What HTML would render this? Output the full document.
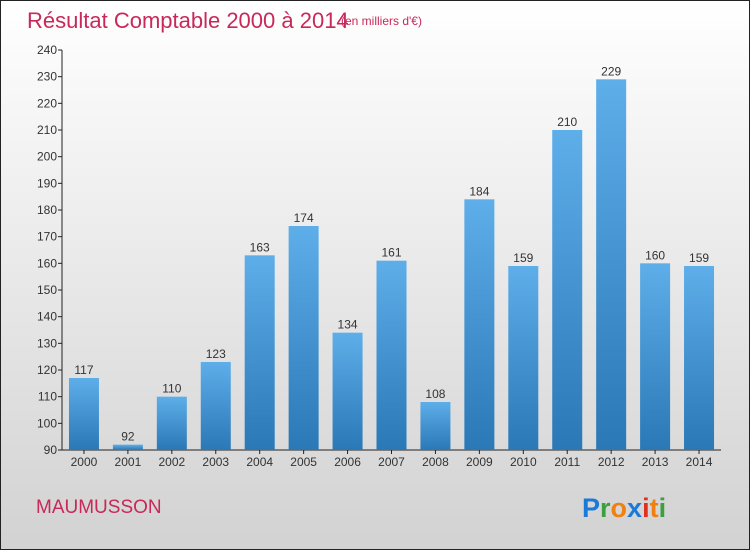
<!DOCTYPE html>
<html><head><meta charset="utf-8">
<style>
body{margin:0;}
#wrap{position:relative;width:748px;height:548px;border:1px solid #222;background:linear-gradient(#ffffff,#d2d2d2);font-family:"Liberation Sans",sans-serif;overflow:hidden;}
</style></head>
<body>
<div id="wrap">
<svg width="748" height="548" viewBox="1 1 748 548" id="svg">
<defs>
<linearGradient id="bg" x1="0" y1="0" x2="0" y2="1">
<stop offset="0" stop-color="#5eaeea"/><stop offset="1" stop-color="#2a78b6"/>
</linearGradient>
</defs>
<text x="27" y="28" font-size="22" fill="#c8285a" style="font-weight:300">Résultat Comptable 2000 à 2014</text>
<text x="341" y="25" font-size="12" fill="#c8285a">(en milliers d'€)</text>
<g id="axes"></g>
<g id="bars"></g>
<text x="36" y="513" font-size="19" fill="#c8285a">MAUMUSSON</text>
<g font-size="27" font-weight="bold">
<text x="582" y="517"><tspan fill="#1a7ad8">P</tspan><tspan fill="#3aa040">r</tspan><tspan fill="#f08010">o</tspan><tspan fill="#1a7ad8">x</tspan><tspan fill="#e03020">i</tspan><tspan fill="#f08010">t</tspan><tspan fill="#3aa040">i</tspan></text>
</g>
</svg>
</div>
<script>
const years=["2000","2001","2002","2003","2004","2005","2006","2007","2008","2009","2010","2011","2012","2013","2014"];
const values=[117,92,110,123,163,174,134,161,108,184,159,210,229,160,159];
const yTicks=[90,100,110,120,130,140,150,160,170,180,190,200,210,220,230,240];
const NS="http://www.w3.org/2000/svg";
const yMin=90,yMax=240,plotTop=50,plotBot=450,plotLeft=62,plotRight=721;
const y=v=>plotBot-(v-yMin)/(yMax-yMin)*(plotBot-plotTop);
const step=(plotRight-plotLeft)/years.length;
const x=i=>plotLeft+step*(i+0.5);
function mk(t,a,p){const e=document.createElementNS(NS,t);for(const k in a)e.setAttribute(k,a[k]);p.appendChild(e);return e;}
const ax=document.getElementById('axes'),bars=document.getElementById('bars');
const yl=mk('line',{x1:plotLeft,y1:plotTop,x2:plotLeft,y2:plotBot,stroke:'#222'},ax);


const xl=mk('line',{x1:plotLeft,y1:plotBot,x2:plotRight,y2:plotBot,stroke:'#222'},ax);


yTicks.forEach(t=>{
  mk('line',{x1:plotLeft-4,y1:y(t),x2:plotLeft,y2:y(t),stroke:'#222'},ax);
  const tx=mk('text',{x:plotLeft-5,y:y(t)+4,'font-size':12,fill:'#333','text-anchor':'end'},ax);
  tx.textContent=t;
  
  
});
years.forEach((yr,i)=>{
  const v=values[i];
  const r=mk('rect',{x:x(i)-15,y:y(v),width:30,height:plotBot-y(v),fill:'url(#bg)'},bars);
  
  
  const lb=mk('text',{x:x(i),y:y(v)-4,'font-size':12,fill:'#333','text-anchor':'middle'},bars);
  lb.textContent=v;
  
  
  mk('line',{x1:x(i),y1:plotBot,x2:x(i),y2:plotBot+4,stroke:'#222'},ax);
  const xt=mk('text',{x:x(i),y:plotBot+16,'font-size':12,fill:'#333','text-anchor':'middle'},ax);
  xt.textContent=yr;
  
  
});
</script>
</body></html>
